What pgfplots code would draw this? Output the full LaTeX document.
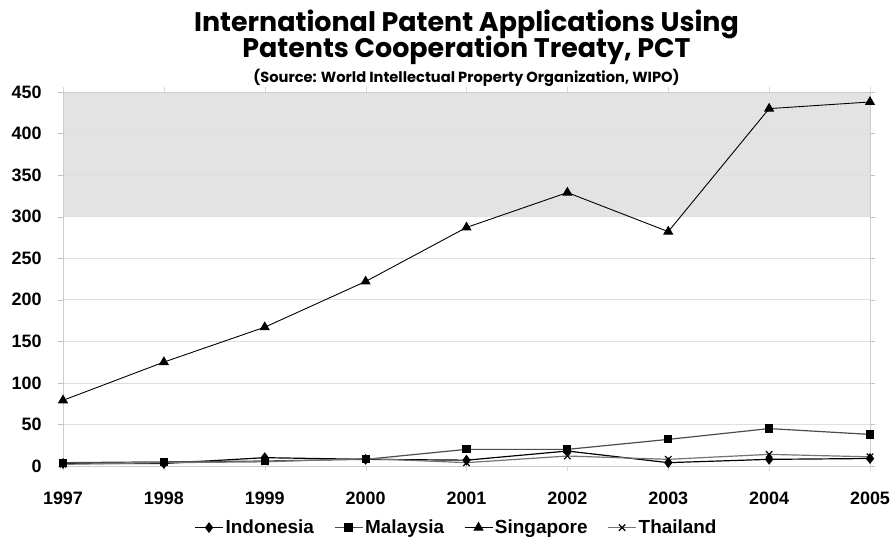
\documentclass[border=0pt]{standalone}
\usepackage{fontspec}
\setmainfont{Liberation Sans}
\newfontfamily\titlefont{Poppins}
\usepackage{pgfplots}
\pgfplotsset{compat=1.18}
\begin{document}
\begin{tikzpicture}
\begin{axis}[
  set layers,
  width=807bp, height=374bp, scale only axis,
  xmin=1997, xmax=2005, ymin=0, ymax=450,
  xtick={1997,1998,1999,2000,2001,2002,2003,2004,2005},
  ytick={0,50,100,150,200,250,300,350,400,450},
  /pgf/number format/1000 sep={},
  /pgf/number format/assume math mode=true,
  tick label style={font=\bfseries\fontsize{18}{18}\selectfont},
  ymajorgrids, grid style={gray!25, line width=0.6pt},
  axis line style={gray!40},
  tick align=outside,
  ytick style={gray!50}, xtick style={gray!30},
  major tick length=5bp,
  yticklabel style={xshift=-13bp},
  xticklabel style={yshift=-17bp},
  legend columns=4,
  legend style={draw=none, fill=none, inner sep=0pt, outer sep=0pt,
    at={(0.5,0)}, anchor=north, xshift=-10bp, yshift=-52bp,
    font=\bfseries\fontsize{19}{19}\selectfont,
    /tikz/every even column/.append style={column sep=18bp}},
  legend image code/.code={\draw[mark repeat=2, mark phase=2] plot coordinates {(0bp,0bp) (14bp,0bp) (28bp,0bp)};},
  legend cell align=left,
]
\addplot[on layer=axis background, draw=none, fill=gray!22, forget plot]
  coordinates {(1997,300) (2005,300) (2005,450) (1997,450)} -- cycle;
\addplot[black, line width=1.2pt, mark=diamond*, mark size=4.5bp, mark options={fill=black}]
  coordinates {(1997,3) (1998,3) (1999,10) (2000,8) (2001,7) (2002,18) (2003,4) (2004,8) (2005,9)};
\addlegendentry{Indonesia}
\addplot[black!70, line width=1.2pt, mark=square*, mark size=3.5bp, mark options={fill=black, draw=black}]
  coordinates {(1997,4) (1998,5) (1999,6) (2000,8) (2001,20) (2002,20) (2003,32) (2004,45) (2005,38)};
\addlegendentry{Malaysia}
\addplot[black, line width=0.9pt, mark=triangle*, mark size=5bp, mark options={fill=black}]
  coordinates {(1997,79) (1998,125) (1999,167) (2000,222) (2001,287) (2002,329) (2003,282) (2004,430) (2005,438)};
\addlegendentry{Singapore}
\addplot[black!55, line width=1.2pt, mark=x, mark size=4.5bp, mark options={draw=black, line width=1.2pt}]
  coordinates {(1997,2) (1998,4) (1999,5) (2000,9) (2001,4) (2002,12) (2003,8) (2004,14) (2005,11)};
\addlegendentry{Thailand}
\end{axis}
\node[anchor=base, font=\titlefont\bfseries\fontsize{27}{27}\selectfont] at ([yshift=60bp]current axis.north) {International Patent Applications Using};
\node[anchor=base, font=\titlefont\bfseries\fontsize{27}{27}\selectfont] at ([yshift=34bp]current axis.north) {Patents Cooperation Treaty, PCT};
\node[anchor=base, font=\titlefont\bfseries\fontsize{14.7}{14.7}\selectfont] at ([yshift=9bp]current axis.north) {(Source: World Intellectual Property Organization, WIPO)};
\pgfresetboundingbox
\path ([xshift=-63bp,yshift=-71bp]current axis.south west) rectangle ([xshift=23bp,yshift=92bp]current axis.north east);
\end{tikzpicture}
\end{document}
